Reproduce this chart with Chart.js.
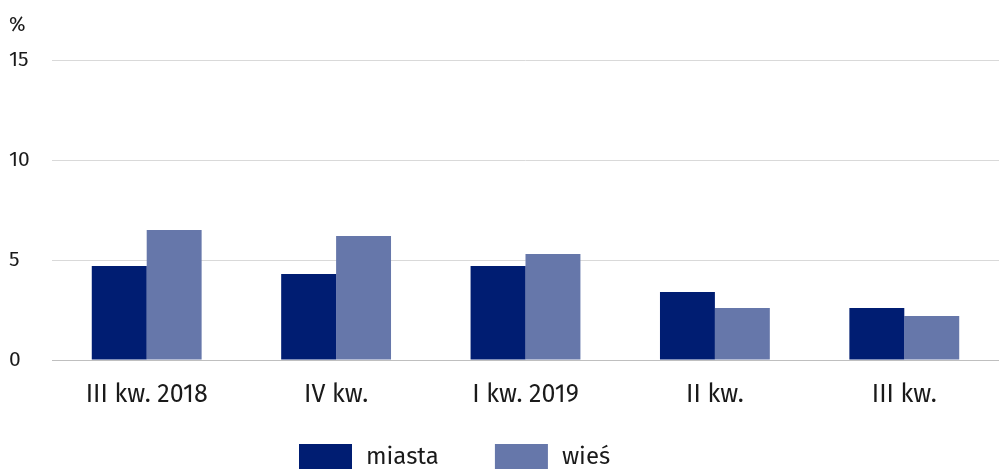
<!DOCTYPE html>
<html>
<head>
<meta charset="utf-8">
<script src="https://cdn.jsdelivr.net/npm/chart.js@4/dist/chart.umd.min.js"></script>
<style>
  html, body { margin: 0; padding: 0; background: #fff; }
  #wrap { width: 999px; height: 469px; position: relative; }
</style>
</head>
<body>
<div id="wrap"><canvas id="chart"></canvas></div>
<script>
// dane
const categories = ['III kw. 2018', 'IV kw.', 'I kw. 2019', 'II kw.', 'III kw.'];
const miasta = [4.7, 4.3, 4.7, 3.4, 2.6];
const wies = [6.5, 6.2, 5.3, 2.6, 2.2];
const yTicks = [0, 5, 10, 15];

const fontFamily = '"Fira Sans", "Noto Sans", sans-serif';
const textColor = '#1a1a1a';

// napis "%" nad osią Y
const unitLabel = {
  id: 'unitLabel',
  afterDraw(chart) {
    const ctx = chart.ctx;
    ctx.save();
    ctx.font = '20px ' + fontFamily;
    ctx.fillStyle = textColor;
    ctx.textAlign = 'left';
    ctx.textBaseline = 'middle';
    ctx.fillText('%', 9, 25);
    ctx.restore();
  }
};

// legenda pod wykresem (szersze odstępy niż w wbudowanej)
const bottomLegend = {
  id: 'bottomLegend',
  afterDraw(chart) {
    const ctx = chart.ctx;
    ctx.save();
    ctx.font = '24px ' + fontFamily;
    ctx.textAlign = 'left';
    ctx.textBaseline = 'middle';
    let x = 299;
    const y = 444;
    chart.data.datasets.forEach(ds => {
      ctx.fillStyle = ds.backgroundColor;
      ctx.fillRect(x, y, 53, 25);
      ctx.fillStyle = textColor;
      ctx.fillText(ds.label, x + 53 + 14, y + 13);
      x += 53 + 14 + ctx.measureText(ds.label).width + 56;
    });
    ctx.restore();
  }
};

new Chart(document.getElementById('chart'), {
  type: 'bar',
  data: {
    labels: categories,
    datasets: [
      {
        label: 'miasta',
        data: miasta,
        backgroundColor: '#001d72',
        borderWidth: 0
      },
      {
        label: 'wieś',
        data: wies,
        backgroundColor: '#6677aa',
        borderWidth: 0
      }
    ]
  },
  options: {
    responsive: true,
    maintainAspectRatio: false,
    animation: false,
    devicePixelRatio: 1,
    categoryPercentage: 0.58,
    barPercentage: 1,
    layout: { padding: { left: 9, right: 0, top: 60, bottom: 47 } },
    plugins: {
      tooltip: { enabled: false },
      legend: { display: false }
    },
    scales: {
      x: {
        grid: { display: false },
        border: { display: true, color: '#bfbfbf', width: 1 },
        ticks: {
          color: textColor,
          padding: 12,
          font: { family: fontFamily, size: 25 }
        }
      },
      y: {
        min: 0,
        max: 15,
        afterBuildTicks(axis) {
          axis.ticks = yTicks.map(v => ({ value: v }));
        },
        afterFit(axis) {
          axis.width = 43;
        },
        grid: {
          drawTicks: false,
          color: ctx => ctx.tick && ctx.tick.value === 0 ? '#bfbfbf' : '#d9d9d9',
          lineWidth: 1
        },
        border: { display: false },
        ticks: {
          crossAlign: 'far',
          color: textColor,
          padding: 8,
          font: { family: fontFamily, size: 21 }
        }
      }
    }
  },
  plugins: [unitLabel, bottomLegend]
});
</script>
</body>
</html>
